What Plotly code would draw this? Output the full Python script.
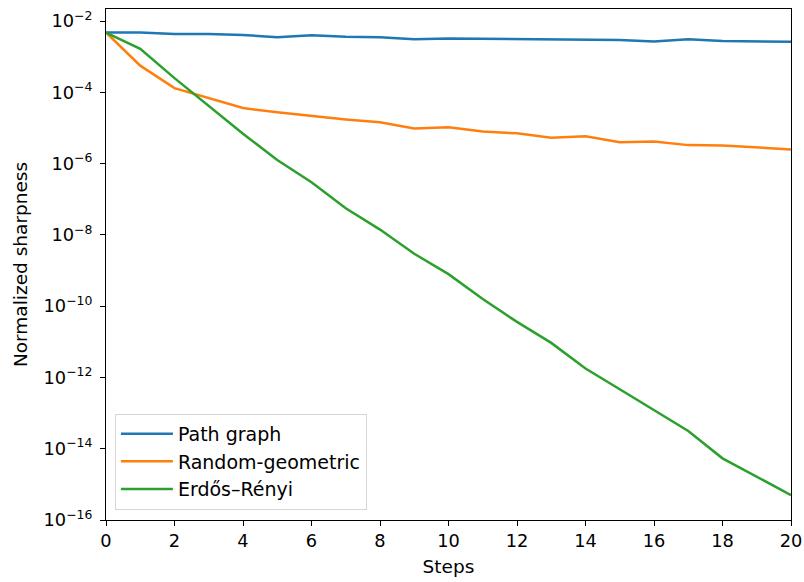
import plotly.graph_objects as go

steps = list(range(21))
path_log = [-2.32, -2.32, -2.36, -2.36, -2.39, -2.45, -2.40, -2.44, -2.45, -2.51, -2.49,
            -2.50, -2.52, -2.52, -2.54, -2.53, -2.57, -2.51, -2.56, -2.58, -2.58]
rgg_log = [-2.32, -3.25, -3.88, -4.16, -4.44, -4.56, -4.67, -4.76, -4.84, -5.01, -4.98,
           -5.10, -5.15, -5.27, -5.23, -5.40, -5.38, -5.48, -5.49, -5.54, -5.60]
er_log = [-2.32, -2.78, -3.60, -4.39, -5.16, -5.90, -6.52, -7.25, -7.85, -8.53, -9.10,
          -9.80, -10.44, -11.03, -11.75, -12.33, -12.92, -13.50, -14.27, -14.79, -15.30]
path_vals = [10 ** v for v in path_log]
rgg_vals = [10 ** v for v in rgg_log]
er_vals = [10 ** v for v in er_log]

names = ["Path graph", "Random-geometric", "Erdős–Rényi"]
colors = ["#1f77b4", "#ff7f0e", "#2ca02c"]
ytick_exp = [-2, -4, -6, -8, -10, -12, -14, -16]
xticks = list(range(0, 21, 2))

fig = go.Figure()
for name, vals, c in zip(names, [path_vals, rgg_vals, er_vals], colors):
    fig.add_trace(go.Scatter(x=steps, y=vals, mode="lines", name=name,
                             line=dict(color=c, width=2.5)))

font = "DejaVu Sans, sans-serif"
fs = 18.5
fig.update_layout(
    width=804, height=582,
    margin=dict(l=106, r=13, t=9, b=62),
    paper_bgcolor="white", plot_bgcolor="white",
    font=dict(family=font, size=fs, color="black"),
    showlegend=True,
    legend=dict(x=0.013, y=0.02, xanchor="left", yanchor="bottom",
                bordercolor="#d6d6d6", borderwidth=1, bgcolor="rgba(255,255,255,0.8)",
                font=dict(size=19), itemwidth=52, tracegroupgap=0),
)
fig.update_xaxes(range=[0, 20], tickvals=xticks, ticktext=[str(t) for t in xticks],
                 showline=True, linecolor="black", linewidth=1, mirror=True,
                 ticks="outside", ticklen=5, tickcolor="black", showgrid=False, zeroline=False,
                 tickfont=dict(size=17.8), automargin=False,
                 title=dict(text="Steps", font=dict(size=fs), standoff=9))
fig.update_yaxes(type="log", range=[-16, -1.66],
                 tickvals=[10 ** e for e in ytick_exp],
                 ticktext=["10<sup>−%d</sup>" % (-e) for e in ytick_exp],
                 showline=True, linecolor="black", linewidth=1, mirror=True,
                 ticks="outside", ticklen=5, tickcolor="black", showgrid=False, zeroline=False,
                 tickfont=dict(size=17.8), automargin=False, ticklabelstandoff=4,
                 title=dict(text="Normalized sharpness", font=dict(size=fs), standoff=11))

fig.write_html("out.html", config={"displayModeBar": False},
               post_script="document.body.style.margin='0';")
